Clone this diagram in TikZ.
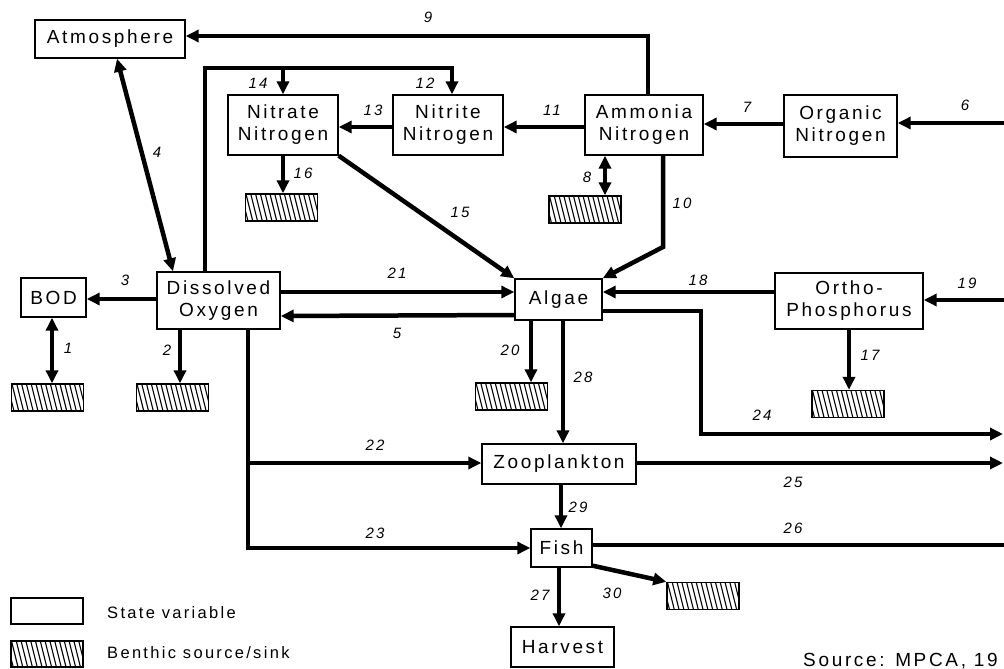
\documentclass[tikz,border=0pt]{standalone}
\usepackage{fontspec}
\setmainfont{Liberation Sans}
\newfontfamily\bxf[LetterSpace=14]{Liberation Sans}
\usetikzlibrary{arrows.meta}
\begin{document}
\begin{tikzpicture}[x=1pt,y=-1pt,
 box/.style={draw, line width=1.4pt, fill=white, inner sep=0pt, align=center, font=\bxf\fontsize{19}{22}\selectfont},
 hatch/.style={draw, line width=1.4pt, inner sep=0pt, minimum width=72pt, minimum height=27pt,
   path picture={\foreach \k in {-3,...,16}{\draw[line width=1.1pt] ([xshift=\k*4.8pt, yshift=2pt]path picture bounding box.north west) -- ++(8pt,-32pt);}}},
 flow/.style={line width=4.5pt, -{Triangle[length=13pt,width=12pt]}},
 flowtwo/.style={line width=4.5pt, {Triangle[length=13pt,width=12pt]}-{Triangle[length=13pt,width=12pt]}},
 pipe/.style={line width=4.5pt},
 lab/.style={font=\bxf\itshape\fontsize{15}{15}\selectfont, inner sep=0pt},
 legtext/.style={font=\bxf\fontsize{16.5}{18}\selectfont, inner sep=0pt, anchor=base west},
]
\useasboundingbox (0,0) rectangle (1004,669);
\clip (0,0) rectangle (1004,669);

% state variables
\node[box, minimum width=150pt, minimum height=38pt] (atm) at (110,39) {Atmosphere};
\node[box, minimum width=110pt, minimum height=60pt] (nitrate) at (283,125) {Nitrate\\Nitrogen};
\node[box, minimum width=110pt, minimum height=60pt] (nitrite) at (448,125) {Nitrite\\Nitrogen};
\node[box, minimum width=118pt, minimum height=60pt] (ammonia) at (644,125) {Ammonia\\Nitrogen};
\node[box, minimum width=113pt, minimum height=62pt] (organic) at (840.5,126) {Organic\\Nitrogen};
\node[box, minimum width=65pt, minimum height=39pt] (bod) at (53.5,297.5) {BOD};
\node[box, minimum width=123pt, minimum height=57pt] (do) at (218.5,300.5) {Dissolved\\Oxygen};
\node[box, minimum width=87pt, minimum height=41pt] (algae) at (558.5,299.5) {Algae};
\node[box, minimum width=148pt, minimum height=56pt] (ortho) at (849,301) {Ortho-\\Phosphorus};
\node[box, minimum width=154pt, minimum height=40pt] (zoo) at (559,464) {Zooplankton};
\node[box, minimum width=61pt, minimum height=38pt] (fish) at (561.5,548) {Fish};
\node[box, minimum width=103pt, minimum height=40pt] (harvest) at (562.5,647) {Harvest};

% benthic sources / sinks
\node[hatch] (h1) at (47.5,397.5) {};
\node[hatch] (h2) at (172.5,397.5) {};
\node[hatch] (h16) at (281.5,207.5) {};
\node[hatch] (h8) at (585,209.5) {};
\node[hatch] (h20) at (511.5,396.5) {};
\node[hatch] (h17) at (848,404) {};
\node[hatch] (h30) at (703,596) {};

% free ends at the right edge
\coordinate (in6) at (1004,123);
\coordinate (in19) at (1004,300);
\coordinate (out24) at (1003,434);
\coordinate (out25) at (1003,463);
\coordinate (out26) at (1004,545);
\coordinate (j14) at (283,68);
\coordinate (j22) at (248,463);

% connectors
\draw[flowtwo] (bod.south -| 52,0) -- (h1.north -| 52,0);
\draw[flow] (do.south -| 180,0) -- (h2.north -| 180,0);
\draw[flow] (do.west |- 0,299) -- (bod.east |- 0,299);
\draw[flowtwo] (atm.south -| 117,0) -- (do.north -| 173,0);
\draw[flow] (algae.west |- 0,315) -- (do.east |- 0,316);
\draw[flow] (do.east |- 0,292) -- (algae.west |- 0,292);
\draw[flow] (in6) -- (organic.east |- in6);
\draw[flow] (organic.west |- 0,124) -- (ammonia.east |- 0,124);
\draw[flow] (ammonia.west |- 0,127) -- (nitrite.east |- 0,127);
\draw[flow] (nitrite.west |- 0,127) -- (nitrate.east |- 0,127);
\draw[flow] (ammonia.north -| 648,0) -- (648,36) -- (atm.east |- 0,36);
\draw[flow] (do.north -| 205,0) -- (205,68) -- (452,68) -- (nitrite.north -| 452,0);
\draw[flow] (j14) -- (nitrate.north -| j14);
\draw[flowtwo] (ammonia.south -| 605,0) -- (h8.north -| 605,0);
\draw[flow] (ammonia.south -| 663,0) -- (663,247) -- (algae.north east);
\draw[flow] (nitrate.south east) -- (algae.north west);
\draw[flow] (nitrate.south -| j14) -- (h16.north -| j14);
\draw[flow] (ortho.south -| 849,0) -- (h17.north -| 849,0);
\draw[flow] (ortho.west |- 0,292) -- (algae.east |- 0,292);
\draw[flow] (in19) -- (ortho.east |- in19);
\draw[flow] (algae.south -| 531,0) -- (h20.north -| 531,0);
\draw[flow] (algae.south -| 563,0) -- (zoo.north -| 563,0);
\draw[flow] (algae.east |- 0,311) -- (701,311) -- (701,434) -- (out24);
\draw[flow] (do.south -| 248,0) -- (248,548) -- (fish.west |- 0,548);
\draw[flow] (j22) -- (zoo.west |- j22);
\draw[flow] (zoo.east |- out25) -- (out25);
\draw[flow] (zoo.south -| 561,0) -- (fish.north -| 561,0);
\draw[pipe] (fish.east |- out26) -- (out26);
\draw[flow] (fish.south -| 559,0) -- (harvest.north -| 559,0);
\draw[flow] ([yshift=2pt]fish.south east) -- (h30.north west);

% flow numbers
\node[lab] at (68,348) {1};
\node[lab] at (167,350) {2};
\node[lab] at (125,280) {3};
\node[lab] at (157,152) {4};
\node[lab] at (397,333) {5};
\node[lab] at (965,105) {6};
\node[lab] at (747,107) {7};
\node[lab] at (587,177) {8};
\node[lab] at (428,17) {9};
\node[lab] at (682,203) {10};
\node[lab] at (552,110) {11};
\node[lab] at (425,83) {12};
\node[lab] at (373,110) {13};
\node[lab] at (258,83) {14};
\node[lab] at (460,212) {15};
\node[lab] at (303,173) {16};
\node[lab] at (870,355) {17};
\node[lab] at (698,280) {18};
\node[lab] at (967,283) {19};
\node[lab] at (510,350) {20};
\node[lab] at (397,273) {21};
\node[lab] at (375,445) {22};
\node[lab] at (375,533) {23};
\node[lab] at (762,415) {24};
\node[lab] at (793,482) {25};
\node[lab] at (793,528) {26};
\node[lab] at (540,595) {27};
\node[lab] at (583,377) {28};
\node[lab] at (578,507) {29};
\node[lab] at (612,593) {30};

% legend
\node[box, minimum width=72pt, minimum height=26pt] (legbox) at (47,611) {};
\node[hatch, minimum height=26pt] (leghatch) at (47,654) {};
\node[legtext] (legt1) at (107,618) {State variable};
\node[legtext] (legt2) at (107,658) {Benthic source/sink};
\node[legtext, anchor=base east, font=\bxf\fontsize{19}{22}\selectfont] (src) at (998,666) {Source: MPCA, 19};
\end{tikzpicture}
\end{document}
